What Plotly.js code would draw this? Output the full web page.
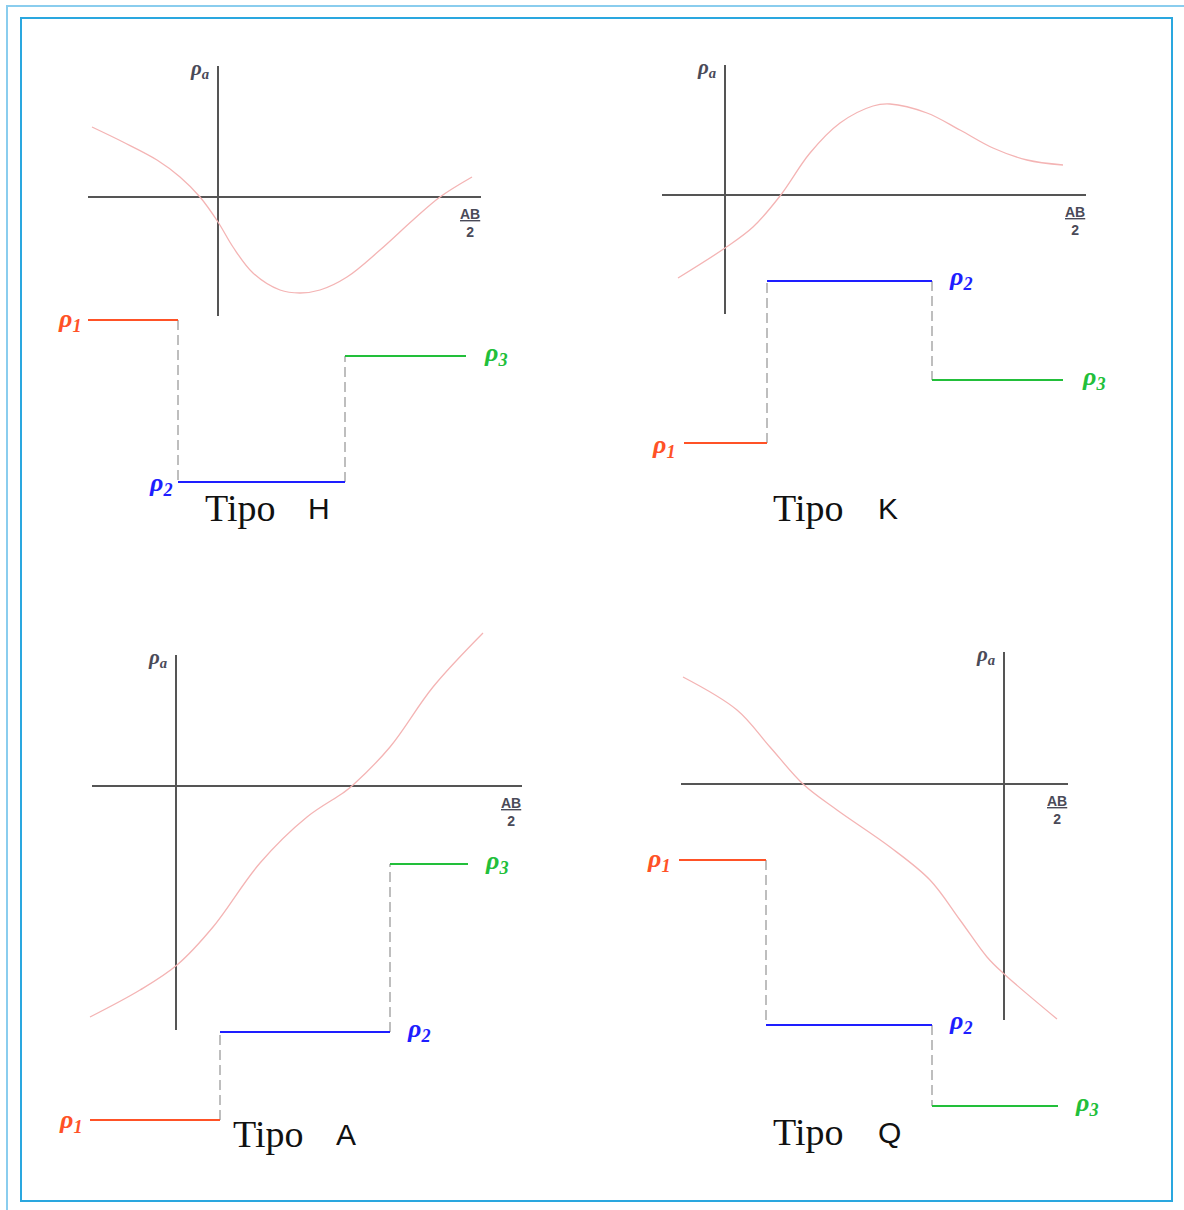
<!DOCTYPE html>
<html><head><meta charset="utf-8">
<script src="https://cdn.plot.ly/plotly-3.0.1.min.js"></script>
<style>html,body{margin:0;padding:0;background:#fff;} #chart{width:1184px;height:1210px;}</style>
</head><body><div id="chart"></div>
<script>
// ---------- DATA (panel-local units; axes cross at 0,0) ----------
const typeNames = ['H', 'K', 'A', 'Q'];
const layerLabels = ['ρ<sub>1</sub>', 'ρ<sub>2</sub>', 'ρ<sub>3</sub>'];

// Tipo H
const curveHx = [-12.6, -9.5, -6.1, -3.8, -1.8, 0.0, 1.5, 3.5, 6.2, 8.2, 10.2, 12.9, 16.2, 19.5, 22.2, 25.4];
const curveHy = [7.0, 5.5, 3.7, 2.0, 0.0, -2.5, -5.0, -7.6, -9.3, -9.6, -9.3, -8.0, -5.3, -2.3, 0.0, 2.0];
const levelsH = [-12.3, -28.5, -15.9];
const boundsH = [-13.0, -4.0, 12.7, 24.8];
const axisHx = [-13.0, 26.3];
const axisHy = [-11.9, 13.1];

// Tipo K
const curveKx = [-4.7, 0.0, 2.8, 5.5, 8.5, 11.5, 14.8, 16.5, 20.2, 23.5, 26.8, 30.2, 33.8];
const curveKy = [-8.3, -5.3, -3.2, -0.1, 4.2, 7.2, 8.9, 9.1, 8.2, 6.5, 4.7, 3.5, 3.0];
const levelsK = [-24.8, -8.6, -18.5];
const boundsK = [-4.1, 4.2, 20.7, 33.8];
const axisKx = [-6.3, 36.1];
const axisKy = [-11.9, 13.0];

// Tipo A
const curveAx = [-8.6, -3.6, 0.1, 3.7, 8.4, 13.1, 16.7, 17.7, 21.4, 25.7, 30.7];
const curveAy = [-23.1, -20.4, -17.9, -14.1, -7.7, -3.1, -0.7, 0.1, 3.9, 9.9, 15.3];
const levelsA = [-33.4, -24.6, -7.8];
const boundsA = [-8.6, 4.4, 21.4, 29.2];
const axisAx = [-8.4, 34.6];
const axisAy = [-24.4, 13.1];

// Tipo Q
const curveQx = [-32.1, -26.7, -23.4, -20.1, -16.7, -11.4, -7.4, -4.4, -1.7, -0.1, 5.3];
const curveQy = [10.7, 7.4, 3.7, 0.0, -2.6, -6.3, -9.6, -13.6, -17.3, -18.9, -23.5];
const levelsQ = [-7.6, -24.1, -32.2];
const boundsQ = [-32.5, -23.8, -7.2, 5.4];
const axisQx = [-32.3, 6.4];
const axisQy = [-23.6, 13.2];

// ---------- LAYOUT / STYLE ----------
const W = 1184, Hh = 1210, S = 10; // pixels per unit
const layerColors = ['#FF5226', '#1E1EFF', '#22BF3A'];
const curveColor = '#F4B4B4';
const axisColor = '#555555';
const dashColor = '#A9A9A9';

const panels = [
  {name: typeNames[0], cx: curveHx, cy: curveHy, lv: levelsH, bd: boundsH, ax: axisHx, ay: axisHy,
   origin: [218, 197], p2: 'left-b1', tipo: [203, 508], letter: [306, 508],
   lblShift: [[-4, 0], [-3, -2], [16, 2]]},
  {name: typeNames[1], cx: curveKx, cy: curveKy, lv: levelsK, bd: boundsK, ax: axisKx, ay: axisKy,
   origin: [725, 195], p2: 'right-b2', tipo: [771, 508], letter: [876, 508],
   lblShift: [[-6, -3], [15, 3], [17, 2]]},
  {name: typeNames[2], cx: curveAx, cy: curveAy, lv: levelsA, bd: boundsA, ax: axisAx, ay: axisAy,
   origin: [176, 786], p2: 'right-b2', tipo: [231, 1134], letter: [334, 1134],
   lblShift: [[-5, -1], [15, 2], [15, 2]]},
  {name: typeNames[3], cx: curveQx, cy: curveQy, lv: levelsQ, bd: boundsQ, ax: axisQx, ay: axisQy,
   origin: [1004, 784], p2: 'right-b2', tipo: [771, 1132], letter: [876, 1132],
   lblShift: [[-6, 0], [15, 3], [15, 2]]}
];

const traces = [];
const annotations = [];
const layout = {
  width: W, height: Hh,
  margin: {l: 0, r: 0, t: 0, b: 0, pad: 0},
  paper_bgcolor: '#ffffff', plot_bgcolor: 'rgba(0,0,0,0)',
  showlegend: false,
  shapes: [
    {type: 'rect', xref: 'paper', yref: 'paper', x0: 7 / W, x1: 1195 / W, y0: 1 - 1220 / Hh, y1: 1 - 6 / Hh,
     line: {color: '#8ACDEE', width: 2}},
    {type: 'rect', xref: 'paper', yref: 'paper', x0: 21 / W, x1: 1172 / W, y0: 1 - 1201 / Hh, y1: 1 - 18 / Hh,
     line: {color: '#2AA7DF', width: 2}}
  ],
  annotations: annotations
};

const px2paperX = p => p / W;
const px2paperY = p => 1 - p / Hh;

panels.forEach((p, i) => {
  const sfx = i === 0 ? '' : String(i + 1);
  const xa = 'x' + sfx, ya = 'y' + sfx;
  const [ox, oy] = p.origin;
  layout['xaxis' + sfx] = {domain: [0, 1], range: [-ox / S, (W - ox) / S], visible: false,
    anchor: ya, fixedrange: true};
  layout['yaxis' + sfx] = {domain: [0, 1], range: [(oy - Hh) / S, oy / S], visible: false,
    anchor: xa, fixedrange: true};

  // coordinate axes
  traces.push({x: [p.ax[0], p.ax[1]], y: [0, 0], xaxis: xa, yaxis: ya, mode: 'lines',
    line: {color: axisColor, width: 2}, hoverinfo: 'skip'});
  traces.push({x: [0, 0], y: [p.ay[0], p.ay[1]], xaxis: xa, yaxis: ya, mode: 'lines',
    line: {color: axisColor, width: 2}, hoverinfo: 'skip'});

  // apparent resistivity curve
  traces.push({x: p.cx, y: p.cy, xaxis: xa, yaxis: ya, mode: 'lines',
    line: {color: curveColor, width: 1.3, shape: 'spline', smoothing: 1}, hoverinfo: 'skip'});

  // dashed connectors
  traces.push({x: [p.bd[1], p.bd[1]], y: [p.lv[0], p.lv[1]], xaxis: xa, yaxis: ya, mode: 'lines',
    line: {color: dashColor, width: 1.5, dash: '10px,5px'}, hoverinfo: 'skip'});
  traces.push({x: [p.bd[2], p.bd[2]], y: [p.lv[1], p.lv[2]], xaxis: xa, yaxis: ya, mode: 'lines',
    line: {color: dashColor, width: 1.5, dash: '10px,5px'}, hoverinfo: 'skip'});

  // layer lines
  for (let k = 0; k < 3; k++) {
    traces.push({x: [p.bd[k], p.bd[k + 1]], y: [p.lv[k], p.lv[k]], xaxis: xa, yaxis: ya, mode: 'lines',
      line: {color: layerColors[k], width: 2}, hoverinfo: 'skip'});
  }

  // layer labels
  const lblFont = k => ({family: 'Liberation Serif, Times New Roman, serif', size: 26, color: layerColors[k]});
  annotations.push({xref: xa, yref: ya, x: p.bd[0], y: p.lv[0], text: '<b><i>' + layerLabels[0] + '</i></b>',
    showarrow: false, xanchor: 'right', yanchor: 'middle', xshift: p.lblShift[0][0], yshift: p.lblShift[0][1], font: lblFont(0)});
  if (p.p2 === 'left-b1') {
    annotations.push({xref: xa, yref: ya, x: p.bd[1], y: p.lv[1], text: '<b><i>' + layerLabels[1] + '</i></b>',
      showarrow: false, xanchor: 'right', yanchor: 'middle', xshift: p.lblShift[1][0], yshift: p.lblShift[1][1], font: lblFont(1)});
  } else {
    annotations.push({xref: xa, yref: ya, x: p.bd[2], y: p.lv[1], text: '<b><i>' + layerLabels[1] + '</i></b>',
      showarrow: false, xanchor: 'left', yanchor: 'middle', xshift: p.lblShift[1][0], yshift: p.lblShift[1][1], font: lblFont(1)});
  }
  annotations.push({xref: xa, yref: ya, x: p.bd[3], y: p.lv[2], text: '<b><i>' + layerLabels[2] + '</i></b>',
    showarrow: false, xanchor: 'left', yanchor: 'middle', xshift: p.lblShift[2][0], yshift: p.lblShift[2][1], font: lblFont(2)});

  // axis labels
  annotations.push({xref: xa, yref: ya, x: 0, y: p.ay[1], text: '<b><i>ρ<sub>a</sub></i></b>',
    showarrow: false, xanchor: 'right', yanchor: 'middle', xshift: -7, yshift: -3,
    font: {family: 'Liberation Serif, serif', size: 21, color: '#4A4A58'}});
  annotations.push({xref: xa, yref: ya, x: p.ax[1], y: 0, text: '<b><u>AB</u></b><br><b>2</b>',
    showarrow: false, xanchor: 'center', yanchor: 'top', xshift: -11, yshift: -7,
    font: {family: 'Liberation Sans, Arial, sans-serif', size: 14, color: '#4A4A58'}});

  // type titles
  annotations.push({xref: 'paper', yref: 'paper', x: px2paperX(p.tipo[0]), y: px2paperY(p.tipo[1]),
    text: 'Tipo', showarrow: false, xanchor: 'left', yanchor: 'middle',
    font: {family: 'Liberation Serif, Times New Roman, serif', size: 38, color: '#111111'}});
  annotations.push({xref: 'paper', yref: 'paper', x: px2paperX(p.letter[0]), y: px2paperY(p.letter[1]),
    text: p.name, showarrow: false, xanchor: 'left', yanchor: 'middle',
    font: {family: 'Liberation Sans, Arial, sans-serif', size: 30, color: '#111111'}});
});

Plotly.newPlot('chart', traces, layout, {displayModeBar: false, staticPlot: true});
</script>
</body></html>
